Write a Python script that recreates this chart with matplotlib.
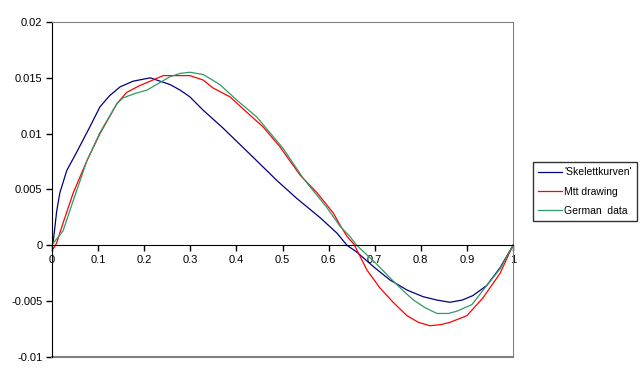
import matplotlib
matplotlib.use("Agg")
import matplotlib.pyplot as plt

plt.rcParams['font.family'] = ['Liberation Sans', 'DejaVu Sans']

# curves
skel_x = [0, 0.003, 0.010, 0.017, 0.032, 0.053, 0.082, 0.104, 0.125, 0.148, 0.176, 0.213,
          0.256, 0.278, 0.299, 0.328, 0.371, 0.436, 0.488, 0.531, 0.581, 0.618, 0.64,
          0.661, 0.700, 0.733, 0.770, 0.805, 0.835, 0.863, 0.890, 0.913, 0.943, 0.972, 1.0]
skel_y = [0, 0.00045, 0.0030, 0.0047, 0.0067, 0.0083, 0.0106, 0.0124, 0.0134, 0.0142,
          0.0147, 0.0150, 0.0144, 0.0139, 0.0133, 0.0121, 0.0105, 0.0079, 0.0058, 0.0042,
          0.0025, 0.0011, 0.0, -0.0006, -0.0020, -0.0031, -0.0040, -0.0046, -0.0049,
          -0.0051, -0.0049, -0.0045, -0.0036, -0.0020, 0.0]

mtt_x = [0, 0.003, 0.010, 0.024, 0.046, 0.076, 0.104, 0.141, 0.162, 0.190, 0.213, 0.241,
         0.256, 0.299, 0.328, 0.349, 0.386, 0.423, 0.458, 0.495, 0.512, 0.538, 0.575, 0.610,
         0.625, 0.64, 0.655, 0.683, 0.711, 0.740, 0.770, 0.795, 0.820, 0.843, 0.863, 0.900,
         0.935, 0.972, 1.0]
mtt_y = [-0.0001, -0.0003, 0.0002, 0.0020, 0.0047, 0.0076, 0.0100, 0.0127, 0.0137, 0.0143,
         0.0147, 0.0152, 0.0152, 0.0152, 0.0148, 0.0141, 0.0133, 0.0119, 0.0106, 0.0088,
         0.0078, 0.0063, 0.0047, 0.0029, 0.0018, 0.0008, 0.0001, -0.0022, -0.0038, -0.0051,
         -0.0063, -0.0069, -0.0072, -0.0071, -0.0069, -0.0063, -0.0047, -0.0025, 0.0]

ger_x = [0, 0.003, 0.024, 0.046, 0.076, 0.104, 0.141, 0.154, 0.180, 0.206, 0.235, 0.256,
         0.278, 0.299, 0.328, 0.364, 0.401, 0.444, 0.501, 0.545, 0.596, 0.625, 0.646,
         0.661, 0.700, 0.733, 0.760, 0.784, 0.810, 0.835, 0.860, 0.878, 0.911, 0.943,
         0.972, 1.0]
ger_y = [0, 0.0002, 0.0013, 0.0040, 0.0076, 0.0101, 0.0127, 0.0132, 0.0136, 0.0139,
         0.0146, 0.0151, 0.0154, 0.0155, 0.0153, 0.0144, 0.0130, 0.0115, 0.0087, 0.0060,
         0.0034, 0.0017, 0.0008, 0.0000, -0.0015, -0.0029, -0.0040, -0.0049, -0.0056,
         -0.0061, -0.0061, -0.0059, -0.0053, -0.0036, -0.0021, 0.0]

x_ticks = [0, 0.1, 0.2, 0.3, 0.4, 0.5, 0.6, 0.7, 0.8, 0.9, 1.0]
x_labels = ['0', '0.1', '0.2', '0.3', '0.4', '0.5', '0.6', '0.7', '0.8', '0.9', '1']
y_ticks = [-0.01, -0.005, 0, 0.005, 0.01, 0.015, 0.02]
y_labels = ['-0.01', '-0.005', '0', '0.005', '0.01', '0.015', '0.02']

fig = plt.figure(figsize=(6.42, 3.80), dpi=100)
ax = fig.add_axes([52 / 642, 23 / 380, 461 / 642, 335 / 380])

ax.plot(skel_x, skel_y, color='#000080', lw=0.9, label="'Skelettkurven'")
ax.plot(mtt_x, mtt_y, color='#FF0000', lw=0.9, label='Mtt drawing')
ax.plot(ger_x, ger_y, color='#339966', lw=0.9, label='German  data')

ax.set_xlim(0, 1)
ax.set_ylim(-0.01, 0.02)

# x axis crosses at zero, plot-area border in grey
ax.spines['bottom'].set_position(('data', 0))
ax.spines['bottom'].set_color('black')
ax.spines['left'].set_color('black')
ax.spines['top'].set_color('#808080')
ax.spines['right'].set_color('#808080')
ax.axhline(-0.01, color='#808080', lw=1.5, clip_on=False)

ax.set_xticks(x_ticks)
ax.set_xticklabels(x_labels)
ax.set_yticks(y_ticks)
ax.set_yticklabels(y_labels)
ax.tick_params(direction='out', length=4, width=1, labelsize=8, pad=3)

fig.legend(loc='upper left', bbox_to_anchor=(533 / 642, 1 - 162 / 380),
           fontsize=7.5, frameon=True, fancybox=False, edgecolor='black',
           handlelength=2.3, handletextpad=0.2, borderpad=0.5, labelspacing=0.9,
           borderaxespad=0)
fig.legends[0].get_frame().set_linewidth(1.0)

plt.savefig('out.png', dpi=100)
